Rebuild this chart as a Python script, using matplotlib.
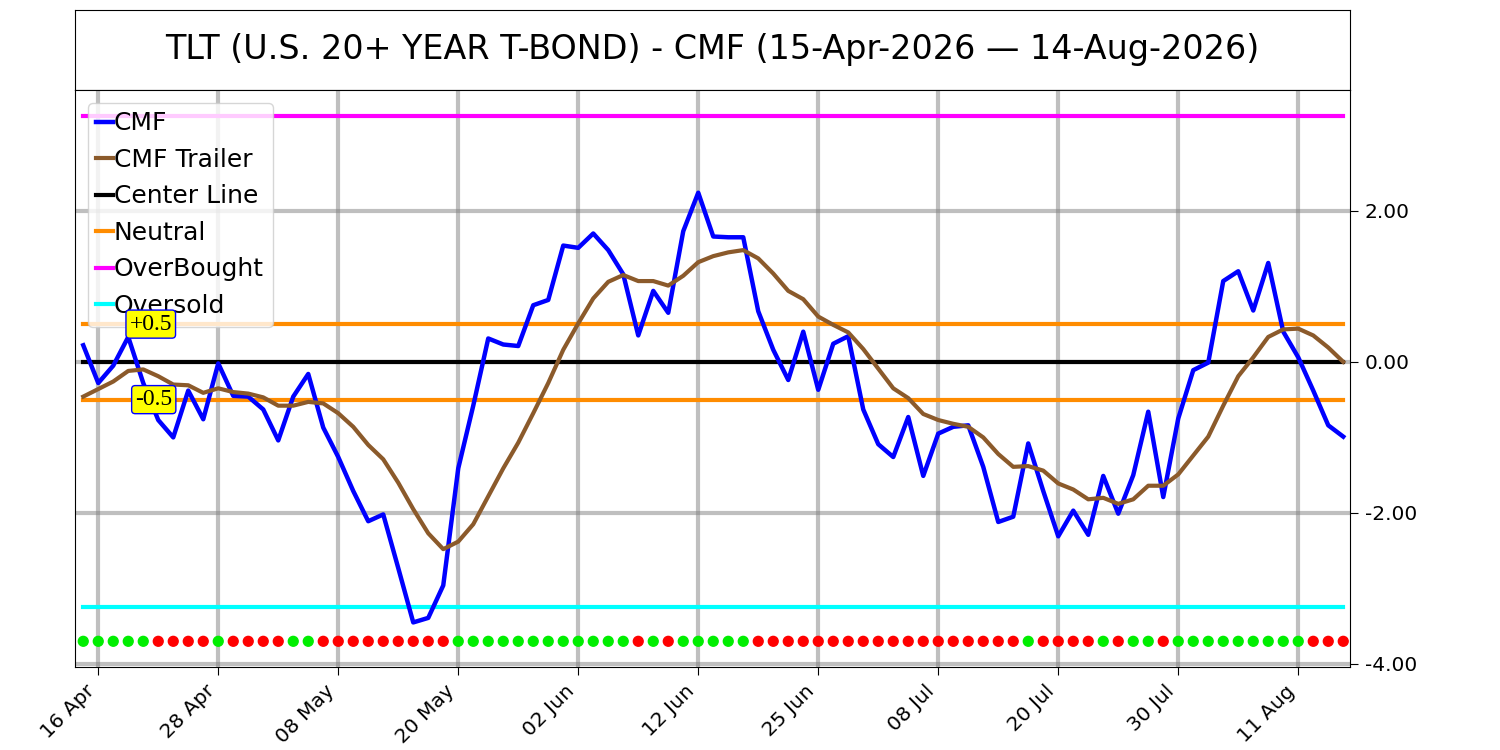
import numpy as np
import pandas as pd
import matplotlib
matplotlib.use('Agg')
from matplotlib import pyplot as plt

# Trading days 15-Apr-2026 .. 14-Aug-2026 (US market holidays removed)
holidays = ['2026-05-25', '2026-06-19', '2026-07-03']
dates = pd.bdate_range('2026-04-15', '2026-08-14', freq='C', holidays=holidays)

cmf = [0.22, -0.28, -0.05, 0.33, -0.28, -0.77, -1.00, -0.38, -0.76, -0.02,
       -0.45, -0.46, -0.63, -1.04, -0.46, -0.16, -0.87, -1.26, -1.71, -2.11,
       -2.02, -2.73, -3.45, -3.39, -2.96, -1.41, -0.58, 0.31, 0.23, 0.21,
       0.75, 0.82, 1.54, 1.51, 1.70, 1.48, 1.16, 0.35, 0.94, 0.65,
       1.73, 2.24, 1.66, 1.65, 1.65, 0.67, 0.16, -0.24, 0.40, -0.37,
       0.24, 0.34, -0.63, -1.09, -1.26, -0.73, -1.51, -0.95, -0.86, -0.84,
       -1.39, -2.12, -2.05, -1.08, -1.71, -2.31, -1.97, -2.29, -1.51, -2.01,
       -1.50, -0.66, -1.79, -0.75, -0.11, -0.01, 1.07, 1.20, 0.68, 1.31,
       0.40, 0.06, -0.38, -0.84, -0.99]

cmf_trailer = [-0.46, -0.36, -0.26, -0.12, -0.10, -0.19, -0.30, -0.31, -0.41, -0.35,
               -0.40, -0.42, -0.47, -0.58, -0.58, -0.53, -0.55, -0.68, -0.86, -1.10,
               -1.29, -1.60, -1.95, -2.27, -2.48, -2.38, -2.15, -1.78, -1.41, -1.07,
               -0.68, -0.28, 0.16, 0.51, 0.84, 1.06, 1.15, 1.07, 1.07, 1.01,
               1.14, 1.32, 1.40, 1.45, 1.48, 1.37, 1.17, 0.94, 0.83, 0.60,
               0.49, 0.39, 0.17, -0.09, -0.35, -0.48, -0.69, -0.77, -0.82, -0.86,
               -1.00, -1.22, -1.39, -1.38, -1.44, -1.61, -1.69, -1.82, -1.80, -1.88,
               -1.82, -1.64, -1.64, -1.49, -1.24, -0.99, -0.58, -0.19, 0.06, 0.33,
               0.43, 0.44, 0.35, 0.19, 0.00]

# g = green dot, r = red dot along the bottom
signal = ('ggggg' 'rrrr' 'g' 'rrrr' 'gg' 'rrrrrr' 'rrr' 'gggggggggggg' 'r' 'g' 'r'
          'ggggg' 'rrrrrrrrrrrrrrrrrr' 'g' 'rrrr' 'g' 'r' 'gg' 'r' 'ggggggggg' 'rrr')

center_level = 0.0
neutral_level = 0.5
overbought_level = 3.25
oversold_level = -3.25
dot_level = -3.7

title = 'TLT (U.S. 20+ YEAR T-BOND) - CMF (15-Apr-2026 \u2014 14-Aug-2026)'

x = np.arange(len(dates))
n = len(x)

fig = plt.figure(figsize=(15, 7.5), dpi=100)

# title box on top
tax = fig.add_axes([0.05, 0.88, 0.85, 0.1067])
tax.set_xticks([])
tax.set_yticks([])
tax.text(0.5, 0.5, title, ha='center', va='center', fontsize=24,
         transform=tax.transAxes)

ax = fig.add_axes([0.05, 0.1107, 0.85, 0.7693])
ax.grid(True, color='gray', alpha=0.5, linewidth=3)
ax.set_axisbelow(True)

ax.plot(x, cmf, color='blue', linewidth=3.2, label='CMF', zorder=4)
ax.plot(x, cmf_trailer, color='#8B5A2B', linewidth=3, label='CMF Trailer', zorder=4)
ax.plot(x, [center_level] * n, color='black', linewidth=3, label='Center Line', zorder=3)
ax.plot(x, [neutral_level] * n, color='darkorange', linewidth=3, label='Neutral', zorder=3)
ax.plot(x, [-neutral_level] * n, color='darkorange', linewidth=3, zorder=3)
ax.plot(x, [overbought_level] * n, color='magenta', linewidth=3, label='OverBought', zorder=3)
ax.plot(x, [oversold_level] * n, color='cyan', linewidth=3, label='Oversold', zorder=3)

dot_colors = ['#00ee00' if s == 'g' else 'red' for s in signal]
ax.scatter(x, [dot_level] * n, c=dot_colors, s=50, zorder=5)

box = dict(boxstyle='round,pad=0.15,rounding_size=0.15', facecolor='yellow', edgecolor='blue')
ax.text(4.5, neutral_level, '+0.5', ha='center', va='center', fontsize=17,
        family='Liberation Serif', bbox=box, zorder=10)
ax.text(4.7, -neutral_level, '-0.5', ha='center', va='center', fontsize=17,
        family='Liberation Serif', bbox=box, zorder=10)

ax.set_xlim(-0.55, n - 0.55)
ax.set_ylim(-4.04, 3.6)

ticks = x[1::8]
ax.set_xticks(ticks)
ax.set_xticklabels([dates[i].strftime('%d %b') for i in ticks],
                   rotation=45, ha='right', fontsize=14.5)
ax.yaxis.tick_right()
ax.set_yticks([-4, -2, 0, 2])
ax.set_yticklabels(['%.2f' % v for v in [-4, -2, 0, 2]], fontsize=14.5)
ax.tick_params(length=6, pad=4.5)

leg = ax.legend(loc='upper left', fontsize=18, handlelength=0.65,
                handletextpad=0.05, borderpad=0.35, labelspacing=0.5)
leg.set_zorder(8)

fig.savefig('out.png', dpi=100)
